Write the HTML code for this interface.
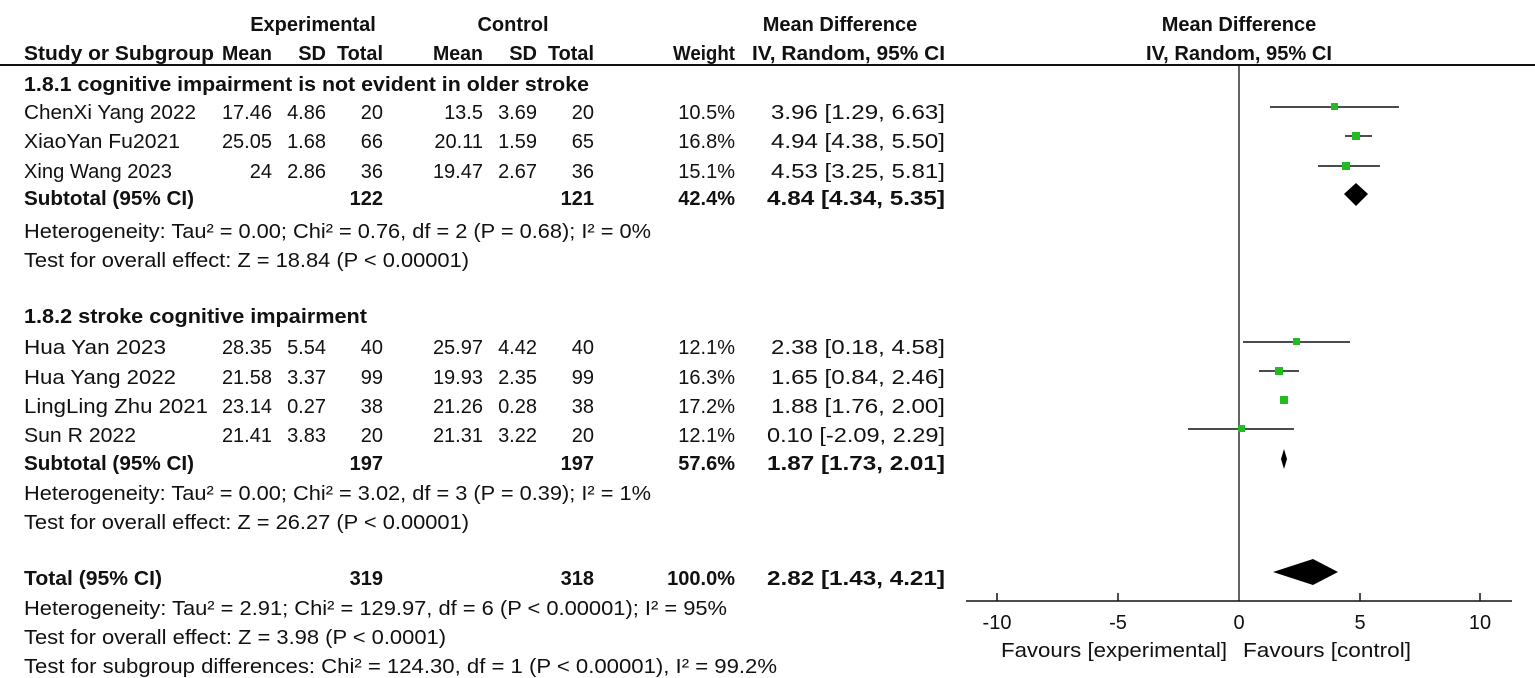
<!DOCTYPE html>
<html><head><meta charset="utf-8"><style>
html,body{margin:0;padding:0;background:#fff;}
svg{display:block;}
text{font-family:"Liberation Sans",sans-serif;font-size:20px;fill:#111;}
.b{font-weight:bold;}
.e{text-anchor:end;}
.m{text-anchor:middle;}
</style></head><body>
<svg width="1535" height="678" viewBox="0 0 1535 678">
<text class="b m" x="313" y="31">Experimental</text>
<text class="b m" x="513" y="31">Control</text>
<text class="b m" x="840" y="31">Mean Difference</text>
<text class="b m" x="1239" y="31">Mean Difference</text>
<text class="b" x="24" y="60" textLength="190" lengthAdjust="spacingAndGlyphs">Study or Subgroup</text>
<text class="b e" x="272" y="60" textLength="50" lengthAdjust="spacingAndGlyphs">Mean</text>
<text class="b e" x="326" y="60">SD</text>
<text class="b e" x="383" y="60" textLength="46" lengthAdjust="spacingAndGlyphs">Total</text>
<text class="b e" x="483" y="60" textLength="50" lengthAdjust="spacingAndGlyphs">Mean</text>
<text class="b e" x="537" y="60">SD</text>
<text class="b e" x="594" y="60" textLength="46" lengthAdjust="spacingAndGlyphs">Total</text>
<text class="b e" x="735" y="60" textLength="62" lengthAdjust="spacingAndGlyphs">Weight</text>
<text class="b" x="752" y="60" textLength="193" lengthAdjust="spacingAndGlyphs">IV, Random, 95% CI</text>
<text class="b m" x="1239" y="60" textLength="186" lengthAdjust="spacingAndGlyphs">IV, Random, 95% CI</text>
<line x1="0" y1="65" x2="1535" y2="65" stroke="#111" stroke-width="2"/>
<line x1="1239" y1="65" x2="1239" y2="601" stroke="#111" stroke-width="1.3"/>

<text class="b" x="24" y="91" textLength="565" lengthAdjust="spacingAndGlyphs">1.8.1 cognitive impairment is not evident in older stroke</text>
<g>
<text x="24" y="119" textLength="172" lengthAdjust="spacingAndGlyphs">ChenXi Yang 2022</text><text class="e" x="272" y="119">17.46</text><text class="e" x="326" y="119">4.86</text><text class="e" x="383" y="119">20</text><text class="e" x="483" y="119">13.5</text><text class="e" x="537" y="119">3.69</text><text class="e" x="594" y="119">20</text><text class="e" x="735" y="119">10.5%</text><text class="e" x="945" y="119" textLength="174" lengthAdjust="spacingAndGlyphs">3.96 [1.29, 6.63]</text>
<text x="24" y="148" textLength="156" lengthAdjust="spacingAndGlyphs">XiaoYan Fu2021</text><text class="e" x="272" y="148">25.05</text><text class="e" x="326" y="148">1.68</text><text class="e" x="383" y="148">66</text><text class="e" x="483" y="148">20.11</text><text class="e" x="537" y="148">1.59</text><text class="e" x="594" y="148">65</text><text class="e" x="735" y="148">16.8%</text><text class="e" x="945" y="148" textLength="174" lengthAdjust="spacingAndGlyphs">4.94 [4.38, 5.50]</text>
<text x="24" y="178" textLength="148" lengthAdjust="spacingAndGlyphs">Xing Wang 2023</text><text class="e" x="272" y="178">24</text><text class="e" x="326" y="178">2.86</text><text class="e" x="383" y="178">36</text><text class="e" x="483" y="178">19.47</text><text class="e" x="537" y="178">2.67</text><text class="e" x="594" y="178">36</text><text class="e" x="735" y="178">15.1%</text><text class="e" x="945" y="178" textLength="174" lengthAdjust="spacingAndGlyphs">4.53 [3.25, 5.81]</text>
<text class="b" x="24" y="205" textLength="170" lengthAdjust="spacingAndGlyphs">Subtotal (95% CI)</text><text class="b e" x="383" y="205">122</text><text class="b e" x="594" y="205">121</text><text class="b e" x="735" y="205">42.4%</text><text class="b e" x="945" y="205" textLength="178" lengthAdjust="spacingAndGlyphs">4.84 [4.34, 5.35]</text>
<text x="24" y="238" textLength="627" lengthAdjust="spacingAndGlyphs">Heterogeneity: Tau² = 0.00; Chi² = 0.76, df = 2 (P = 0.68); I² = 0%</text>
<text x="24" y="267" textLength="445" lengthAdjust="spacingAndGlyphs">Test for overall effect: Z = 18.84 (P &lt; 0.00001)</text>

<text class="b" x="24" y="323" textLength="343" lengthAdjust="spacingAndGlyphs">1.8.2 stroke cognitive impairment</text>
<text x="24" y="354" textLength="142" lengthAdjust="spacingAndGlyphs">Hua Yan 2023</text><text class="e" x="272" y="354">28.35</text><text class="e" x="326" y="354">5.54</text><text class="e" x="383" y="354">40</text><text class="e" x="483" y="354">25.97</text><text class="e" x="537" y="354">4.42</text><text class="e" x="594" y="354">40</text><text class="e" x="735" y="354">12.1%</text><text class="e" x="945" y="354" textLength="174" lengthAdjust="spacingAndGlyphs">2.38 [0.18, 4.58]</text>
<text x="24" y="384" textLength="152" lengthAdjust="spacingAndGlyphs">Hua Yang 2022</text><text class="e" x="272" y="384">21.58</text><text class="e" x="326" y="384">3.37</text><text class="e" x="383" y="384">99</text><text class="e" x="483" y="384">19.93</text><text class="e" x="537" y="384">2.35</text><text class="e" x="594" y="384">99</text><text class="e" x="735" y="384">16.3%</text><text class="e" x="945" y="384" textLength="174" lengthAdjust="spacingAndGlyphs">1.65 [0.84, 2.46]</text>
<text x="24" y="413" textLength="184" lengthAdjust="spacingAndGlyphs">LingLing Zhu 2021</text><text class="e" x="272" y="413">23.14</text><text class="e" x="326" y="413">0.27</text><text class="e" x="383" y="413">38</text><text class="e" x="483" y="413">21.26</text><text class="e" x="537" y="413">0.28</text><text class="e" x="594" y="413">38</text><text class="e" x="735" y="413">17.2%</text><text class="e" x="945" y="413" textLength="174" lengthAdjust="spacingAndGlyphs">1.88 [1.76, 2.00]</text>
<text x="24" y="442" textLength="112" lengthAdjust="spacingAndGlyphs">Sun R 2022</text><text class="e" x="272" y="442">21.41</text><text class="e" x="326" y="442">3.83</text><text class="e" x="383" y="442">20</text><text class="e" x="483" y="442">21.31</text><text class="e" x="537" y="442">3.22</text><text class="e" x="594" y="442">20</text><text class="e" x="735" y="442">12.1%</text><text class="e" x="945" y="442" textLength="178" lengthAdjust="spacingAndGlyphs">0.10 [-2.09, 2.29]</text>
<text class="b" x="24" y="470" textLength="170" lengthAdjust="spacingAndGlyphs">Subtotal (95% CI)</text><text class="b e" x="383" y="470">197</text><text class="b e" x="594" y="470">197</text><text class="b e" x="735" y="470">57.6%</text><text class="b e" x="945" y="470" textLength="178" lengthAdjust="spacingAndGlyphs">1.87 [1.73, 2.01]</text>
<text x="24" y="500" textLength="627" lengthAdjust="spacingAndGlyphs">Heterogeneity: Tau² = 0.00; Chi² = 3.02, df = 3 (P = 0.39); I² = 1%</text>
<text x="24" y="529" textLength="445" lengthAdjust="spacingAndGlyphs">Test for overall effect: Z = 26.27 (P &lt; 0.00001)</text>

<text class="b" x="24" y="585" textLength="138" lengthAdjust="spacingAndGlyphs">Total (95% CI)</text><text class="b e" x="383" y="585">319</text><text class="b e" x="594" y="585">318</text><text class="b e" x="735" y="585">100.0%</text><text class="b e" x="945" y="585" textLength="178" lengthAdjust="spacingAndGlyphs">2.82 [1.43, 4.21]</text>
<text x="24" y="615" textLength="703" lengthAdjust="spacingAndGlyphs">Heterogeneity: Tau² = 2.91; Chi² = 129.97, df = 6 (P &lt; 0.00001); I² = 95%</text>
<text x="24" y="644" textLength="422" lengthAdjust="spacingAndGlyphs">Test for overall effect: Z = 3.98 (P &lt; 0.0001)</text>
<text x="24" y="673" textLength="753" lengthAdjust="spacingAndGlyphs">Test for subgroup differences: Chi² = 124.30, df = 1 (P &lt; 0.00001), I² = 99.2%</text>
</g>

<g stroke="#111" stroke-width="1.5">
<line x1="1270" y1="107" x2="1399" y2="107"/>
<line x1="1345" y1="136" x2="1372" y2="136"/>
<line x1="1318" y1="166" x2="1380" y2="166"/>
<line x1="1243" y1="342" x2="1350" y2="342"/>
<line x1="1259" y1="371" x2="1299" y2="371"/>
<line x1="1282" y1="400" x2="1287" y2="400"/>
<line x1="1188" y1="429" x2="1294" y2="429"/>
</g>
<g fill="#22bb22">
<rect x="1331" y="103" width="7" height="7"/>
<rect x="1352" y="132" width="8" height="8"/>
<rect x="1342" y="162" width="8" height="8"/>
<rect x="1293" y="338" width="7" height="7"/>
<rect x="1275" y="367" width="8" height="8"/>
<rect x="1280" y="396" width="8" height="8"/>
<rect x="1238" y="425" width="7" height="7"/>
</g>
<g fill="#000">
<polygon points="1344,194 1356,183 1368,194 1356,206"/>
<polygon points="1281,459 1284,449 1287,459 1284,469"/>
<polygon points="1273,572 1313,559 1338,572 1313,585"/>
</g>
<line x1="966" y1="601" x2="1512" y2="601" stroke="#111" stroke-width="1.5"/>
<g stroke="#111" stroke-width="1.5">
<line x1="997" y1="593" x2="997" y2="601"/>
<line x1="1118" y1="593" x2="1118" y2="601"/>
<line x1="1360" y1="593" x2="1360" y2="601"/>
<line x1="1480" y1="593" x2="1480" y2="601"/>
</g>
<text class="m" x="997" y="629">-10</text>
<text class="m" x="1118" y="629">-5</text>
<text class="m" x="1239" y="629">0</text>
<text class="m" x="1360" y="629">5</text>
<text class="m" x="1480" y="629">10</text>
<text x="1001" y="657" textLength="226" lengthAdjust="spacingAndGlyphs">Favours [experimental]</text>
<text x="1243" y="657" textLength="168" lengthAdjust="spacingAndGlyphs">Favours [control]</text>
</svg>
</body></html>
